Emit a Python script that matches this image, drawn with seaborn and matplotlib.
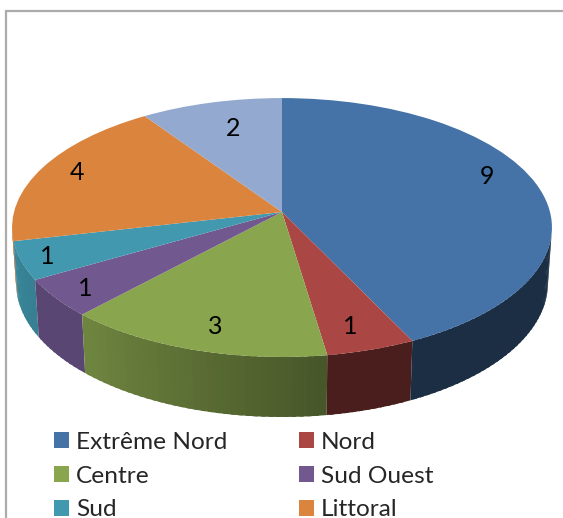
import numpy as np
import matplotlib
matplotlib.use("Agg")
import matplotlib.pyplot as plt
from matplotlib.path import Path
from matplotlib.patches import Patch
from matplotlib.transforms import Transform
import seaborn as sns

categories = ["Extrême Nord", "Nord", "Centre", "Sud Ouest", "Sud", "Littoral", ""]
values = [9, 1, 3, 1, 1, 4, 2]
colors = ["#4572A7", "#AA4643", "#89A54E", "#71588F", "#4198AF", "#DB843D", "#93A9CF"]

W, H = 563, 518
K = 0.12


class TopFace(Transform):
    input_dims = output_dims = 2
    has_inverse = False

    def transform_non_affine(self, pts):
        pts = np.asarray(pts, float)
        w = 1 + K * pts[:, 1]
        return np.column_stack((282 + 268 * pts[:, 0] / w, 212 - 127.6 * pts[:, 1] / w))

    def transform_path_non_affine(self, path):
        return Path(self.transform_non_affine(path.vertices), path.codes)


def rim(theta, bottom=False):
    t = np.radians(theta)
    u, v = np.sin(t), np.cos(t)
    w = 1 + K * v
    if bottom:
        return 282 + 264 * u / w, 267 - 132 * v / w
    return 282 + 268 * u / w, 212 - 127.6 * v / w


sns.set_style("white")
plt.rcParams["font.family"] = ["Lato", "DejaVu Sans"]
palette = sns.color_palette(colors)

fig = plt.figure(figsize=(W / 100, H / 100), dpi=100)
ax = fig.add_axes([0, 0, 1, 1])

wedges, _ = ax.pie(values, colors=palette, startangle=90, counterclock=False, radius=1,
                   wedgeprops={"linewidth": 0})
ax.set_aspect("auto")
ax.set_xlim(0, W)
ax.set_ylim(H, 0)
ax.axis("off")
for wedge in wedges:
    wedge.set_transform(TopFace() + ax.transData)
    wedge.set_zorder(3)

# side wall, shaded per slice along the angle
edges = np.cumsum([0] + values) / sum(values) * 360
shade_knots = {0: ([100, 154], [.40, .40]), 1: ([154, 171], [.43, .43]),
               2: ([171, 223], [.52, .82]), 3: ([223, 240], [.80, .80]),
               4: ([240, 257], [.84, .88]), 5: ([257, 264], [.85, .85])}
for i in sorted(shade_knots, reverse=True):
    knots, shades = shade_knots[i]
    lo = max(edges[i], 100)
    hi = min(edges[i + 1], 264)
    if hi <= lo:
        continue
    steps = np.linspace(lo, hi, max(2, int((hi - lo) / 1.5) + 2))
    # drawn from high angle to low, each step overlapping the one already drawn
    for a, b in zip(steps[:-1][::-1], steps[1:][::-1]):
        s = np.interp((a + b) / 2, knots, shades)
        c = tuple(np.array(palette[i]) * s)
        th = np.array([a, min(b + 0.8, hi)])
        xt, yt = rim(th)
        xb, yb = rim(th[::-1], bottom=True)
        ax.fill(np.r_[xt, xb], np.r_[yt, yb], color=c, lw=0, zorder=2)

# value labels
label_x = [487, 350, 215, 85, 47, 77, 233]
label_y = [176, 326, 326, 288, 256, 172, 129]
for x, y, val in zip(label_x, label_y, values):
    ax.text(x, y, str(val), ha="center", va="center", fontsize=18, color="black", zorder=5)

# chart frame: only the left and top edges fall inside the crop
frame_x = [5.5, 5.5, W]
frame_y = [H, 11, 11]
ax.plot(frame_x, frame_y, color="#ABABAB", lw=1.6, zorder=1, solid_joinstyle="miter")

order = [0, 2, 4, 1, 3, 5]
handles = [Patch(facecolor=colors[i], edgecolor="none", label=categories[i]) for i in order]
fs = 17.6
ax.legend(handles=handles, ncol=2, loc="upper left", bbox_to_anchor=(54 / W, 1 - 432 / H),
          frameon=False, fontsize=fs, handlelength=0.62, handleheight=0.62, handletextpad=0.27,
          labelspacing=0.52, columnspacing=2.93, borderpad=0, borderaxespad=0)

fig.savefig("out.png", dpi=100)
